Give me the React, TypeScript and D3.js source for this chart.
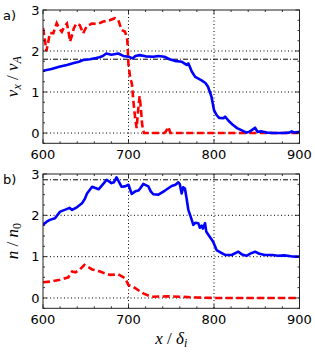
import React, { useEffect, useRef } from 'react';
import * as d3 from 'd3';

type Pt = [number, number];

// panel a: bulk velocity v_x / v_A
const vxBlue: Pt[] = [
  [600, 1.52], [610, 1.56], [620, 1.62], [628, 1.66], [635, 1.70], [642, 1.74], [647, 1.78],
  [655, 1.80], [662, 1.83], [666, 1.85], [670, 1.88], [674, 1.94], [680, 1.91], [688, 1.94],
  [694, 1.88], [700, 1.86], [705, 1.82], [708, 1.88], [713, 1.90], [720, 1.87], [729, 1.86],
  [735, 1.88], [742, 1.86], [748, 1.80], [754, 1.76], [762, 1.74], [768, 1.66], [770, 1.70],
  [774, 1.50], [778, 1.37], [785, 1.29], [790, 1.22], [793, 1.13], [797, 0.89], [800, 0.56],
  [803, 0.44], [806, 0.37], [811, 0.36], [813, 0.40], [817, 0.30], [822, 0.20], [827, 0.12],
  [832, 0.07], [838, 0.01], [842, 0.04], [846, 0.10], [848, 0.13], [851, 0.03], [856, 0.04],
  [862, 0.01], [870, 0.0], [880, 0.0], [888, 0.01], [891, 0.04], [894, 0.01], [900, 0.03],
];
const vxRed: Pt[] = [
  [600, 2.56], [602, 2.3], [604, 2.0], [606, 2.2], [608, 2.44], [612, 2.43], [616, 2.68],
  [619, 2.55], [622, 2.47], [625, 2.6], [628, 2.67], [630, 2.45], [631.6, 2.23], [633.5, 2.35],
  [636, 2.55], [639, 2.67], [643, 2.63], [647, 2.43], [651, 2.6], [657, 2.67], [664, 2.66],
  [670.5, 2.72], [677, 2.74], [684, 2.8], [688, 2.76], [692, 2.51], [696, 2.47], [698.6, 2.27],
  [700, 1.66], [702, 1.35], [704, 1.2], [705.6, 0.8], [707.6, 0.4], [709.5, 0.12], [711, 0.5],
  [713, 0.9], [714.5, 0.6], [716, 0.2], [718, 0], [742, 0], [744, 0.05], [746.5, 0.15],
  [749, 0], [800, 0], [900, 0],
];
const vxRef = 1.8;

// panel b: density n / n_0
const nBlue: Pt[] = [
  [600, 1.77], [604, 1.84], [608, 1.89], [614, 1.93], [620, 2.09], [627.7, 2.15], [631, 2.18],
  [634, 2.13], [640, 2.2], [645.6, 2.29], [649, 2.4], [651.5, 2.53], [657.5, 2.69],
  [665, 2.63], [670, 2.75], [674.5, 2.86], [680, 2.78], [683, 2.8], [686, 2.92], [692, 2.69],
  [696, 2.7], [700, 2.74], [703.7, 2.52], [708, 2.58], [711.5, 2.6], [714, 2.66], [717.3, 2.76],
  [723.2, 2.7], [726, 2.58], [729, 2.51], [735, 2.5], [742.7, 2.6], [750.5, 2.71],
  [755, 2.74], [758.3, 2.8], [760, 2.75], [762.2, 2.53], [764, 2.68], [766, 2.65], [768, 2.4],
  [770, 2.13], [773, 1.95], [775.8, 1.77], [778, 1.82], [781.6, 1.81], [783.5, 1.7], [785.6, 1.75],
  [787, 1.68], [789.5, 1.81], [791, 1.6], [793.4, 1.53], [796, 1.45], [799, 1.36], [803, 1.16],
  [808, 1.1], [813, 1.04], [820.7, 1.04], [828.4, 1.12], [833, 1.05], [838, 1.02], [843, 1.08],
  [848, 1.12], [853, 1.07], [859.6, 1.04], [868, 1.04], [875, 1.02], [882, 1.03], [890, 1.01],
  [895, 1.0], [900, 1.0],
];
const nRed: Pt[] = [
  [600, 0.38], [610, 0.4], [620, 0.44], [629.6, 0.5], [634, 0.64], [638, 0.62], [642.7, 0.68],
  [648.5, 0.8], [652, 0.76], [657.5, 0.69], [666.7, 0.64], [672, 0.6], [678, 0.56], [688, 0.57],
  [696, 0.48], [700, 0.31], [705.6, 0.27], [712, 0.18], [717.3, 0.11], [724, 0.05], [729, 0.03],
  [745, 0.04], [760, 0.03], [780, 0.01], [800, 0.0], [900, 0.0],
];
const nRef = 2.86;

const xTicks = [600, 700, 800, 900];
const yTicks = [0, 1, 2, 3];

const W = 315;
const H = 360;
const left = 43;
const right = 299.5;

const panels = [
  { top: 10, bottom: 143.3, tag: 'a)', blue: vxBlue, red: vxRed, ref: vxRef, sym: 'v', subA: 'x', sym2: 'v', subB: 'A' },
  { top: 174, bottom: 308.3, tag: 'b)', blue: nBlue, red: nRed, ref: nRef, sym: 'n', subA: '', sym2: 'n', subB: '0' },
];

const App: React.FC = () => {
  const svgRef = useRef<SVGSVGElement>(null);

  useEffect(() => {
    if (!svgRef.current) return;
    const svg = d3.select(svgRef.current);
    svg.selectAll('*').remove();

    const x = d3.scaleLinear().domain([600, 900]).range([left, right]);
    const mathFont = '"Liberation Serif", serif';
    const tickFont = '"DejaVu Sans", sans-serif';

    panels.forEach((p) => {
      const y = d3.scaleLinear().domain([-0.25, 3]).range([p.bottom, p.top]);
      const g = svg.append('g');

      g.append('defs').append('clipPath').attr('id', `clip-${p.tag[0]}`)
        .append('rect').attr('x', left).attr('y', p.top).attr('width', right - left).attr('height', p.bottom - p.top);

      // dotted grid
      [0, 1, 2].forEach((v) => {
        g.append('line').attr('x1', left).attr('x2', right).attr('y1', y(v)).attr('y2', y(v))
          .attr('stroke', '#000').attr('stroke-width', 1).attr('stroke-dasharray', '1,2.5');
      });
      [700, 800].forEach((v) => {
        g.append('line').attr('x1', x(v)).attr('x2', x(v)).attr('y1', p.top).attr('y2', p.bottom)
          .attr('stroke', '#000').attr('stroke-width', 1).attr('stroke-dasharray', '1,2.5');
      });

      // reference dash-dot line
      g.append('line').attr('x1', left).attr('x2', right).attr('y1', y(p.ref)).attr('y2', y(p.ref))
        .attr('stroke', '#000').attr('stroke-width', 1).attr('stroke-dasharray', '5,2,1,2');

      const line = d3.line<Pt>().x(d => x(d[0])).y(d => y(d[1]));
      const clipped = g.append('g').attr('clip-path', `url(#clip-${p.tag[0]})`);

      clipped.append('path').datum(p.red)
        .attr('fill', 'none').attr('stroke', '#ff0000').attr('stroke-width', 2.6)
        .attr('stroke-dasharray', '7,3.5').attr('d', line);
      clipped.append('path').datum(p.blue)
        .attr('fill', 'none').attr('stroke', '#0000ff').attr('stroke-width', 2.6)
        .attr('stroke-linejoin', 'round').attr('d', line);

      // ticks, inward on all four sides
      const ticks = g.append('g').attr('stroke', '#000').attr('stroke-width', 0.8);
      d3.range(600, 901, 20).forEach((v) => {
        const len = v % 100 === 0 ? 4 : 2;
        ticks.append('line').attr('x1', x(v)).attr('x2', x(v)).attr('y1', p.bottom).attr('y2', p.bottom - len);
        ticks.append('line').attr('x1', x(v)).attr('x2', x(v)).attr('y1', p.top).attr('y2', p.top + len);
      });
      d3.range(-0.25, 3.01, 0.25).forEach((v) => {
        const len = Math.abs(v - Math.round(v)) < 1e-6 ? 4 : 2;
        ticks.append('line').attr('x1', left).attr('x2', left + len).attr('y1', y(v)).attr('y2', y(v));
        ticks.append('line').attr('x1', right).attr('x2', right - len).attr('y1', y(v)).attr('y2', y(v));
      });

      // frame
      g.append('rect').attr('x', left).attr('y', p.top).attr('width', right - left).attr('height', p.bottom - p.top)
        .attr('fill', 'none').attr('stroke', '#222').attr('stroke-width', 1);

      // tick labels
      xTicks.forEach((v) => {
        g.append('text').attr('x', x(v)).attr('y', p.bottom + 16).attr('text-anchor', 'middle')
          .attr('font-family', tickFont).attr('font-size', 13).text(v);
      });
      yTicks.forEach((v) => {
        g.append('text').attr('x', 39.5).attr('y', y(v)).attr('dy', '0.36em').attr('text-anchor', 'end')
          .attr('font-family', tickFont).attr('font-size', 13).text(v);
      });

      // panel tag
      g.append('text').attr('x', 3).attr('y', p.top + 10).attr('font-family', tickFont)
        .attr('font-size', 13).text(p.tag);

      // y label
      const cy = (p.top + p.bottom) / 2;
      const yl = g.append('text').attr('transform', `translate(18,${cy}) rotate(-90)`)
        .attr('text-anchor', 'middle').attr('font-family', mathFont).attr('font-size', 17);
      yl.append('tspan').attr('font-style', 'italic').text(p.sym);
      if (p.subA) yl.append('tspan').attr('font-style', 'italic').attr('font-size', 12).attr('dy', 3).text(p.subA);
      yl.append('tspan').attr('dy', p.subA ? -3 : 0).text(' / ');
      yl.append('tspan').attr('font-style', 'italic').text(p.sym2);
      yl.append('tspan').attr('font-size', 12).attr('font-style', p.subB === 'A' ? 'italic' : 'normal').attr('dy', 3).text(p.subB);
    });

    // x label
    const xl = svg.append('text').attr('x', (left + right) / 2).attr('y', 344).attr('text-anchor', 'middle')
      .attr('font-family', '"Liberation Serif", serif').attr('font-size', 17);
    xl.append('tspan').attr('font-style', 'italic').text('x');
    xl.append('tspan').text(' / ');
    xl.append('tspan').attr('font-style', 'italic').text('δ');
    xl.append('tspan').attr('font-style', 'italic').attr('font-size', 12).attr('dy', 3).text('i');
  }, []);

  return (
    <div style={{ position: 'absolute', left: 0, top: 0, width: W, height: H, background: '#fff' }}>
      <svg ref={svgRef} width={W} height={H} />
    </div>
  );
};

export default App;
